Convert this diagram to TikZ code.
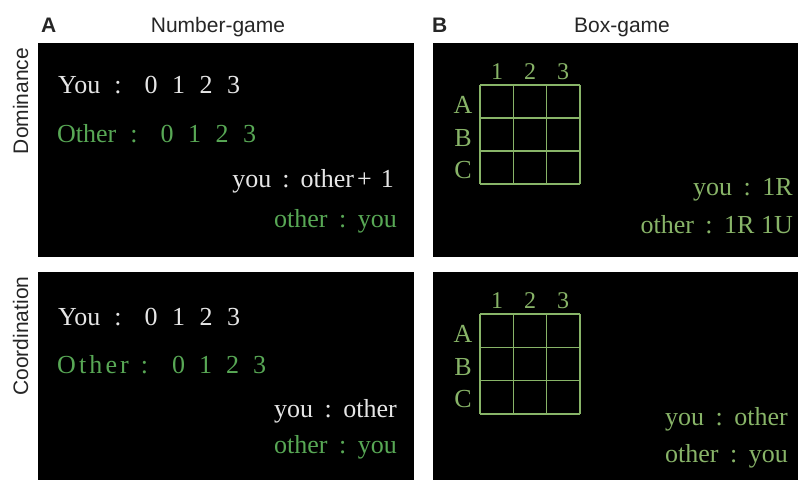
\documentclass[tikz,border=0pt]{standalone}
\usepackage{fontspec}
\setmainfont{Liberation Serif}
\newfontfamily\hdfont{Liberation Sans}
\definecolor{txtwhite}{HTML}{E6E6E6}
\definecolor{greenA}{HTML}{58A855}
\definecolor{greenB}{HTML}{88B468}
\newcommand{\cln}[2]{\hspace{#1}:\hspace{#2}}
\newcommand{\digs}[1]{0\hspace{#1}1\hspace{#1}2\hspace{#1}3}
\begin{document}
\begin{tikzpicture}[x=1pt,y=-1pt,
  panel/.style={fill=black,draw=none},
  hd/.style={font=\hdfont\fontsize{21}{25}\selectfont, inner sep=0pt, text=black!85},
  hdb/.style={hd,font=\hdfont\bfseries\fontsize{21}{25}\selectfont},
  side/.style={hd, rotate=90, anchor=base},
  txt/.style={font=\fontsize{26}{30}\selectfont, inner sep=0pt},
  wt/.style={txt,text=txtwhite},
  ga/.style={txt,text=greenA},
  gb/.style={txt,text=greenB},
  glab/.style={txt,text=greenB,anchor=base},
  glabn/.style={glab,font=\fontsize{24}{28}\selectfont},
  gridline/.style={draw=greenB, line width=1.1pt}]
\useasboundingbox (0,0) rectangle (798,480);
\fill[white] (0,0) rectangle (798,480);
% panels
\fill[panel] (38,43) rectangle (414,257);
\fill[panel] (433,43) rectangle (798,257);
\fill[panel] (38,272) rectangle (414,480);
\fill[panel] (433,272) rectangle (798,480);
% headings
\node[hdb,anchor=base west] (lA) at (41,32) {A};
\node[hd,anchor=base] (tA) at (218,32) {Number-game};
\node[hdb,anchor=base west] (lB) at (432,32) {B};
\node[hd,anchor=base] (tB) at (622,32) {Box-game};
\node[side] (dom) at (28,101) {Dominance};
\node[side] (coo) at (28,336) {Coordination};
% panel A top
\node[wt,anchor=base west] (a1) at (58,93) {You\cln{14pt}{23pt}\digs{14.5pt}};
\node[ga,anchor=base west] (a2) at (57,142) {Other\cln{14pt}{23pt}\digs{14.5pt}};
\node[wt,anchor=base east] (a3) at (394,187) {you\cln{11pt}{11pt}other\hspace{3pt}+\hspace{9pt}1};
\node[ga,anchor=base east] (a4) at (397,227) {other\cln{11.5pt}{11.5pt}you};
% panel A bottom
\node[wt,anchor=base west] (c1) at (58,325) {You\cln{14pt}{23pt}\digs{14.5pt}};
\node[ga,anchor=base west] (c2) at (57,373) {{\addfontfeature{LetterSpace=12}Other}\cln{12pt}{24pt}\digs{14pt}};
\node[wt,anchor=base east] (c3) at (397,417) {you\cln{11.5pt}{11.5pt}other};
\node[ga,anchor=base east] (c4) at (397,453) {other\cln{11.5pt}{11.5pt}you};
% panel B top
\foreach \i in {0,1,2,3}{
  \draw[gridline] ({480+\i*100/3},85) -- ({480+\i*100/3},184);
  \draw[gridline] (480,{85+\i*33}) -- (580,{85+\i*33});
}
\node[glabn] (b1) at (497,79) {1};
\node[glabn] (b2) at (530,79) {2};
\node[glabn] (b3) at (563,79) {3};
\node[glab] (bA) at (463,113) {A};
\node[glab] (bB) at (463,146) {B};
\node[glab] (bC) at (463,178) {C};
\node[gb,anchor=base east] (b4) at (793,195) {you\cln{11.5pt}{11.5pt}1R};
\node[gb,anchor=base east] (b5) at (793,233) {other\cln{11.5pt}{11.5pt}1R 1U};
% panel B bottom
\foreach \i in {0,1,2,3}{
  \draw[gridline] ({480+\i*100/3},314) -- ({480+\i*100/3},414);
  \draw[gridline] (480,{314+\i*100/3}) -- (580,{314+\i*100/3});
}
\node[glabn] (d1) at (497,308) {1};
\node[glabn] (d2) at (530,308) {2};
\node[glabn] (d3) at (563,308) {3};
\node[glab] (dA) at (463,342) {A};
\node[glab] (dB) at (463,375) {B};
\node[glab] (dC) at (463,407) {C};
\node[gb,anchor=base east] (d4) at (788,425) {you\cln{11.5pt}{11.5pt}other};
\node[gb,anchor=base east] (d5) at (788,462) {other\cln{11.5pt}{11.5pt}you};
\end{tikzpicture}
\end{document}
